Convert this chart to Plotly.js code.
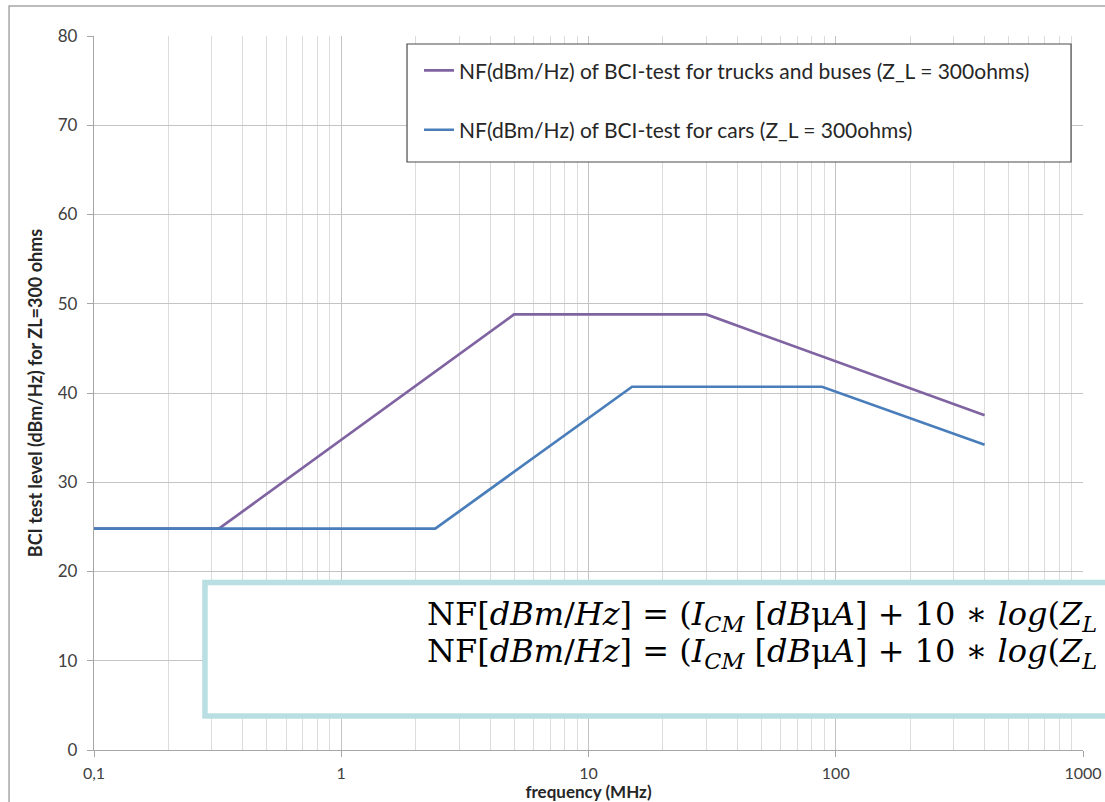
<!DOCTYPE html>
<html>
<head>
<meta charset="utf-8">
<script src="https://cdn.plot.ly/plotly-3.0.1.min.js"></script>
<style>
  html, body { margin: 0; padding: 0; background: #ffffff; }
  #chart { width: 1105px; height: 802px; }
</style>
</head>
<body>
<div id="chart"></div>
<script>
// ---- data ----
const freqTrucks = [0.1, 0.32, 5, 30, 400];
const nfTrucks   = [24.8, 24.8, 48.8, 48.8, 37.5];
const freqCars   = [0.1, 2.4, 15, 88, 400];
const nfCars     = [24.8, 24.8, 40.7, 40.7, 34.2];

const nameTrucks = 'NF(dBm/Hz) of BCI-test for trucks and buses (Z_L = 300ohms)';
const nameCars   = 'NF(dBm/Hz) of BCI-test for cars (Z_L = 300ohms)';

const xTickVals  = [0.1, 1, 10, 100, 1000];
const xTickText  = ['0,1', '1', '10', '100', '1000'];
const xMinorVals = [0.2,0.3,0.4,0.5,0.6,0.7,0.8,0.9,
                    2,3,4,5,6,7,8,9,
                    20,30,40,50,60,70,80,90,
                    200,300,400,500,600,700,800,900];
const yTickVals  = [0, 10, 20, 30, 40, 50, 60, 70, 80];

const eqLine = 'NF[<i>dBm</i>/<i>Hz</i>] = (<i>I</i><sub><i>CM</i></sub> [<i>dB</i>μ<i>A</i>] + 10 ∗ <i>log</i>(<i>Z</i><sub><i>L</i></sub>';

const FONT = 'Lato, "Open Sans", sans-serif';
const EQFONT = '"DejaVu Serif", "Liberation Serif", serif';

const traces = [
  { x: freqTrucks, y: nfTrucks, name: nameTrucks, type: 'scatter', mode: 'lines',
    legendgroup: 'g1', line: { color: '#8064a2', width: 2.7 } },
  { x: freqCars, y: nfCars, name: nameCars, type: 'scatter', mode: 'lines',
    legendgroup: 'g2', line: { color: '#4a7ebb', width: 2.7 } }
];

const layout = {
  width: 1105, height: 802,
  margin: { l: 94, r: 22, t: 36, b: 52 },
  paper_bgcolor: '#ffffff', plot_bgcolor: '#ffffff',
  font: { family: FONT, size: 17, color: '#404040' },
  showlegend: true,
  legend: {
    x: 0.3286, y: 0.98, xanchor: 'left', yanchor: 'top',
    bgcolor: 'rgba(0,0,0,0)', borderwidth: 0,
    font: { family: FONT, size: 21, color: '#262626' },
    tracegroupgap: 29, itemwidth: 30
  },
  xaxis: {
    type: 'log', range: [-1, 3],
    tickmode: 'array', tickvals: xTickVals, ticktext: xTickText,
    ticks: 'outside', ticklen: 6, tickcolor: '#a6a6a6', tickwidth: 1,
    showgrid: true, gridcolor: '#c4c4c4', gridwidth: 1,
    minor: { tickmode: 'array', tickvals: xMinorVals, showgrid: true, gridcolor: '#dcdcdc', gridwidth: 1, ticks: '' },
    showline: true, linecolor: '#a6a6a6', linewidth: 1.2,
    zeroline: false, ticklabelstandoff: 3,
    tickfont: { family: FONT, size: 16, color: '#404040' },
    title: { text: '<b>frequency (MHz)</b>', font: { family: FONT, size: 17, color: '#262626' }, standoff: 1 }
  },
  yaxis: {
    range: [0, 80], tickmode: 'array', tickvals: yTickVals,
    ticks: 'outside', ticklen: 6, tickcolor: '#a6a6a6',
    showgrid: true, gridcolor: '#c4c4c4', gridwidth: 1,
    showline: true, linecolor: '#a6a6a6', linewidth: 1.2,
    zeroline: false, ticklabelstandoff: 6,
    tickfont: { family: FONT, size: 17, color: '#404040' },
    title: { text: '<b>BCI test level (dBm/Hz) for ZL=300 ohms</b>', font: { family: FONT, size: 18, color: '#262626' }, standoff: 10 }
  },
  shapes: [
    // outer chart border
    { type: 'rect', xref: 'paper', yref: 'paper', x0: -0.0859, x1: 1.06, y0: -0.12, y1: 1.042,
      line: { color: '#a6a6a6', width: 1.5 }, fillcolor: 'rgba(0,0,0,0)', layer: 'below' },
    // legend box
    { type: 'rect', xref: 'paper', yref: 'paper', x0: 0.3165, x1: 0.9879, y0: 0.8235, y1: 0.9888,
      line: { color: '#4a4a4a', width: 1.2 }, fillcolor: '#ffffff', layer: 'above' },
    // equation box
    { type: 'rect', xref: 'paper', yref: 'paper', x0: 0.1122, x1: 1.1, y0: 0.0476, y1: 0.2346,
      line: { color: '#b9dfe2', width: 5.5 }, fillcolor: '#ffffff', layer: 'above' }
  ],
  annotations: [
    { xref: 'paper', yref: 'paper', x: 0.3347, y: (750 - 616) / 714, xanchor: 'left', yanchor: 'middle',
      text: eqLine, showarrow: false, font: { family: EQFONT, size: 32, color: '#000000' } },
    { xref: 'paper', yref: 'paper', x: 0.3347, y: (750 - 653) / 714, xanchor: 'left', yanchor: 'middle',
      text: eqLine, showarrow: false, font: { family: EQFONT, size: 32, color: '#000000' } }
  ]
};

Plotly.newPlot('chart', traces, layout, { displayModeBar: false, staticPlot: true });
</script>
</body>
</html>
